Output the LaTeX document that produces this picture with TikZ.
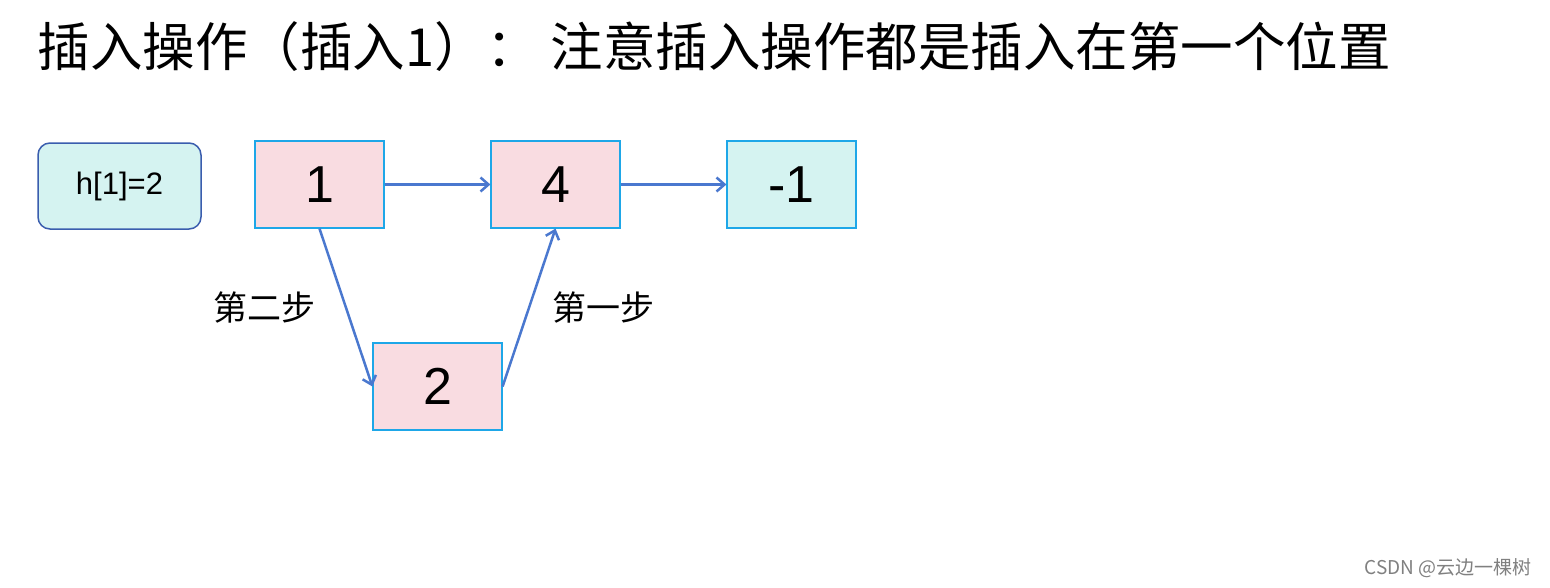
\documentclass[tikz,border=0pt]{standalone}
\usepackage{fontspec}
\setmainfont{Liberation Sans}
\newfontfamily\cjk{Noto Sans CJK SC}
\definecolor{pinkf}{HTML}{F9DCE1}
\definecolor{cyanf}{HTML}{D5F3F1}
\definecolor{edge}{HTML}{1EA7E8}
\definecolor{dblue}{HTML}{3A5DAE}
\definecolor{arr}{HTML}{4A78CF}
\tikzset{
 cell/.style={draw=edge,line width=1.2pt,minimum width=129pt,minimum height=87pt,inner sep=0pt,font=\fontsize{52}{52}\selectfont},
 conn/.style={draw=arr,line width=2.5pt,-{Straight Barb[length=8pt,width=14pt]}},
}
\usetikzlibrary{arrows.meta}
\begin{document}
\begin{tikzpicture}[x=1pt,y=-1pt]
\useasboundingbox[fill=white] (0,0) rectangle (1550,587);
\node[anchor=west,font=\cjk\fontsize{52.5}{52}\selectfont] (title) at (34,47) {插入操作（插入1）： 注意插入操作都是插入在第一个位置};
\node[draw=dblue,line width=1.5pt,fill=cyanf,rounded corners=12pt,minimum width=163pt,minimum height=86pt,font=\fontsize{31}{31}\selectfont] (h) at (119.5,186) {h[1]=2};
\node[cell,fill=pinkf] (n1) at (319.5,184.5) {1};
\node[cell,fill=pinkf] (n4) at (555.5,184.5) {4};
\node[cell,fill=cyanf] (nm) at (791.5,184.5) {-1};
\node[cell,fill=pinkf] (n2) at (437.5,386.5) {2};
\draw[conn] (n1.east) -- (n4.west);
\draw[conn] (n4.east) -- (nm.west);
\draw[conn] (n1.south) -- (n2.west);
\draw[conn] (n2.east) -- (n4.south);
\node[font=\cjk\fontsize{34}{34}\selectfont] (l2) at (264,308) {第二步};
\node[font=\cjk\fontsize{34}{34}\selectfont] (l1) at (603,308) {第一步};
\node[anchor=east,text=gray,font=\cjk\fontsize{19}{19}\selectfont] (wm) at (1535,568) {CSDN @云边一棵树};
\end{tikzpicture}
\end{document}
